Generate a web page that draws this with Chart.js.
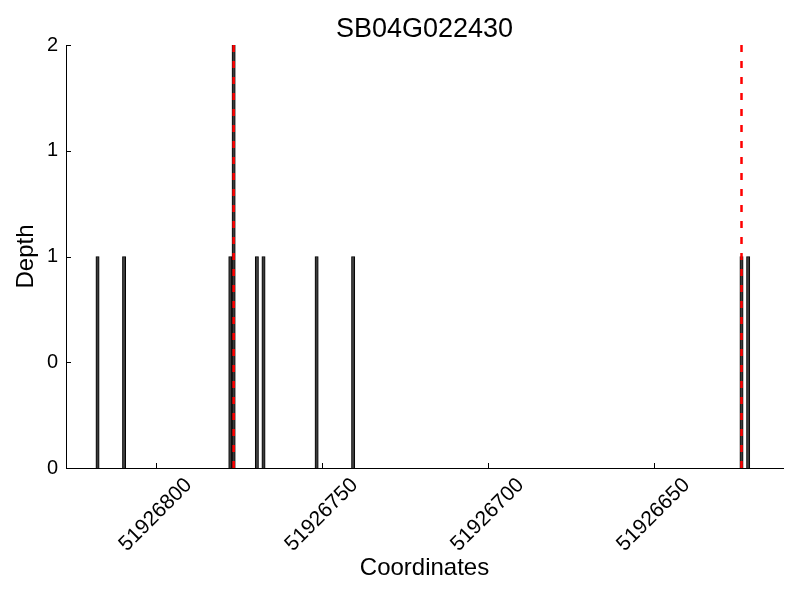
<!DOCTYPE html>
<html>
<head>
<meta charset="utf-8">
<title>SB04G022430</title>
<script src="https://cdn.jsdelivr.net/npm/chart.js@4"></script>
<style>
  html, body { margin: 0; padding: 0; background: #fff; }
  #chart { display: block; }
</style>
</head>
<body>
<canvas id="chart" width="800" height="600"></canvas>
<script>
// start coordinate of each 1bp bin and its read depth
const binStarts = [51926817, 51926809, 51926777, 51926776, 51926769, 51926767, 51926751, 51926740, 51926623, 51926621];
const depths = [1, 1, 1, 2, 1, 1, 1, 1, 1, 1];
// red dashed marker positions (bin starts)
const markers = [51926776, 51926623];
const xTicks = [51926800, 51926750, 51926700, 51926650];
const yTicks = [0, 0.5, 1, 1.5, 2];
const xMin = 51926611, xMax = 51926827;
const yMax = 2;

const fontFamily = '"Liberation Sans", Arial, sans-serif';

// bars are drawn at the centre of their bin
const barData = binStarts.map((s, i) => ({ x: s + 0.5, y: depths[i] }));

const markerSets = markers.map(m => ({
    type: 'line',
    data: [{ x: m + 0.5, y: yMax }, { x: m + 0.5, y: 0 }],
    borderColor: '#ff0000',
    borderWidth: 2.5,
    borderDash: [7, 9],
    pointRadius: 0,
    fill: false,
    order: 1
}));

// Octave style ticks pointing into the plot
const innerTicks = {
    id: 'innerTicks',
    afterDatasetsDraw(chart) {
        const ctx = chart.ctx;
        const x = chart.scales.x, y = chart.scales.y;
        const area = chart.chartArea;
        ctx.save();
        ctx.strokeStyle = '#000';
        ctx.lineWidth = 1;
        ctx.beginPath();
        yTicks.forEach(v => {
            const py = Math.round(y.getPixelForValue(v)) + 0.5;
            ctx.moveTo(area.left, py);
            ctx.lineTo(area.left + 5, py);
        });
        xTicks.forEach(v => {
            const px = Math.round(x.getPixelForValue(v)) + 0.5;
            ctx.moveTo(px, area.bottom);
            ctx.lineTo(px, area.bottom - 5);
        });
        ctx.stroke();
        ctx.restore();
    }
};

new Chart(document.getElementById('chart'), {
    type: 'bar',
    data: {
        datasets: [
            ...markerSets,
            {
                type: 'bar',
                data: barData,
                backgroundColor: '#3c3c3c',
                borderColor: '#000',
                borderWidth: 1,
                barPercentage: 1,
                categoryPercentage: 1,
                order: 2
            }
        ]
    },
    options: {
        responsive: false,
        animation: false,
        layout: { padding: { top: 0, right: 17, bottom: 0, left: 0 } },
        plugins: {
            legend: { display: false },
            tooltip: { enabled: false },
            title: {
                display: true,
                text: 'SB04G022430',
                fullSize: false,
                color: '#000',
                font: { family: fontFamily, size: 27, weight: 'normal', lineHeight: 1.15 },
                padding: { top: 14, bottom: 0 }
            }
        },
        scales: {
            x: {
                type: 'linear',
                reverse: true,
                offset: false,
                min: xMin,
                max: xMax,
                afterBuildTicks: s => { s.ticks = xTicks.map(v => ({ value: v })); },
                afterFit: s => { s.height = 132; },
                grid: { display: false, drawTicks: false, offset: false },
                border: { display: true, color: '#000', width: 1 },
                ticks: {
                    color: '#000',
                    font: { family: fontFamily, size: 21 },
                    minRotation: 45,
                    maxRotation: 45,
                    labelOffset: 33,
                    padding: 5,
                    callback: v => String(v)
                },
                title: {
                    display: true,
                    text: 'Coordinates',
                    color: '#000',
                    font: { family: fontFamily, size: 24 },
                    padding: { top: 0, bottom: 17 }
                }
            },
            y: {
                min: 0,
                max: yMax,
                afterBuildTicks: s => { s.ticks = yTicks.map(v => ({ value: v })); },
                afterFit: s => { s.width = 66; },
                grid: { display: false, drawTicks: false },
                border: { display: true, color: '#000', width: 1 },
                ticks: {
                    color: '#000',
                    font: { family: fontFamily, size: 20 },
                    padding: 8,
                    callback: v => String(Math.floor(v))
                },
                title: {
                    display: true,
                    text: 'Depth',
                    color: '#000',
                    font: { family: fontFamily, size: 24 },
                    padding: { top: 12, bottom: 0 }
                }
            }
        }
    },
    plugins: [innerTicks]
});
</script>
</body>
</html>
